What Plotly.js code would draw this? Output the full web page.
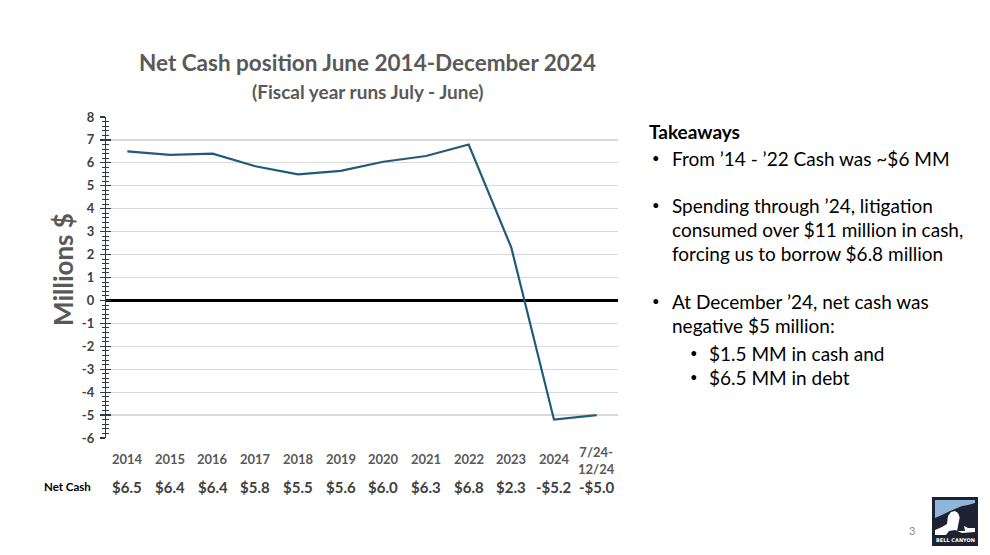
<!DOCTYPE html>
<html><head><meta charset="utf-8">
<script src="https://cdn.plot.ly/plotly-3.0.1.min.js"></script>
<style>html,body{margin:0;padding:0;background:#fff}#chart{width:990px;height:555px}</style>
</head><body><div id="chart"></div>
<script>
const categories = ['2014','2015','2016','2017','2018','2019','2020','2021','2022','2023','2024','7/24-12/24'];
const categoryLabels = ['2014','2015','2016','2017','2018','2019','2020','2021','2022','2023','2024','7/24-<br>12/24'];
const netCash = [6.5, 6.35, 6.4, 5.85, 5.5, 5.65, 6.05, 6.3, 6.8, 2.3, -5.2, -5.0];
const netCashLabels = ['$6.5','$6.4','$6.4','$5.8','$5.5','$5.6','$6.0','$6.3','$6.8','$2.3','-$5.2','-$5.0'];
const yTickVals = [8,7,6,5,4,3,2,1,0,-1,-2,-3,-4,-5,-6];
const takeaways = [
  {t:'<b>Takeaways</b>', x:647, y:131, size:19},
  {t:'•', x:650, y:158, size:13},
  {t:'From ’14 - ’22 Cash was ~$6 MM', x:670, y:158, size:19},
  {t:'•', x:650, y:205, size:13},
  {t:'Spending through ’24, litigation', x:670, y:205, size:19},
  {t:'consumed over $11 million in cash,', x:670, y:229, size:19},
  {t:'forcing us to borrow $6.8 million', x:670, y:253, size:19},
  {t:'•', x:650, y:301, size:13},
  {t:'At December ’24, net cash was', x:670, y:301, size:19},
  {t:'negative $5 million:', x:670, y:325, size:19},
  {t:'•', x:688, y:353, size:13},
  {t:'$1.5 MM in cash and', x:707, y:353, size:19},
  {t:'•', x:688, y:377, size:13},
  {t:'$6.5 MM in debt', x:707, y:377, size:19}
];

const W=990,H=555,L=106,R=618,T=117,B=438;
const px = x => (x-L)/(R-L);
const py = y => (B-y)/(B-T);
const FONT = 'Lato, "Open Sans", sans-serif';
const GRAY = '#595959';

const annotations = [];
categories.forEach((c,i)=>{
  annotations.push({x:i, xref:'x', y:py(i===11?461:459), yref:'paper', text:'<b>'+categoryLabels[i]+'</b>',
    showarrow:false, xanchor:'center', yanchor:'middle', font:{family:FONT,size:13,color:GRAY}});
  annotations.push({x:i, xref:'x', y:py(487), yref:'paper', text:'<b>'+netCashLabels[i]+'</b>',
    showarrow:false, xanchor:'center', yanchor:'middle', font:{family:FONT,size:15,color:'#404040'}});
});
annotations.push({x:px(93), xref:'paper', y:py(486), yref:'paper', text:'<b>Net Cash</b>', showarrow:false,
  xanchor:'right', yanchor:'middle', font:{family:FONT,size:11.5,color:'#000'}});
annotations.push({x:px(367), xref:'paper', y:py(63), yref:'paper', text:'<b>Net Cash position June 2014-December 2024</b>',
  showarrow:false, xanchor:'center', yanchor:'middle', font:{family:FONT,size:22.5,color:GRAY}});
annotations.push({x:px(367), xref:'paper', y:py(91), yref:'paper', text:'<b>(Fiscal year runs July - June)</b>',
  showarrow:false, xanchor:'center', yanchor:'middle', font:{family:FONT,size:19,color:GRAY}});
annotations.push({x:px(63), xref:'paper', y:py(270), yref:'paper', text:'<b>Millions $</b>', textangle:-90,
  showarrow:false, xanchor:'center', yanchor:'middle', font:{family:FONT,size:26,color:GRAY}});
takeaways.forEach(a=>{
  annotations.push({x:px(a.x), xref:'paper', y:py(a.y), yref:'paper', text:a.t, showarrow:false,
    xanchor:'left', yanchor:'middle', font:{family:FONT,size:a.size,color:'#000'}});
});
annotations.push({x:px(912), xref:'paper', y:py(530), yref:'paper', text:'3', showarrow:false,
  xanchor:'center', yanchor:'middle', font:{family:FONT,size:11,color:'#8c8c8c'}});
annotations.push({x:px(955), xref:'paper', y:py(540), yref:'paper', text:'<b>BELL CANYON</b>', showarrow:false,
  xanchor:'center', yanchor:'middle', font:{family:'DejaVu Sans',size:5,color:'#fff'}});

function path(pts){return 'M'+pts.map(p=>px(p[0])+','+py(p[1])).join(' L')+' Z';}
const shapes = [
  {type:'rect', xref:'paper', yref:'paper', x0:px(932), x1:px(978), y0:py(546), y1:py(497), fillcolor:'#1c2232', line:{width:0}},
  {type:'path', xref:'paper', yref:'paper', path:path([[935,500],[975,500],[975,503],[968,505],[962,506],[955,509],[948,512],[942,515],[935,518]]), fillcolor:'#8fb5da', line:{width:0}},
  {type:'path', xref:'paper', yref:'paper', path:path([[935,530],[942,527],[947,524],[948,516],[951,512],[955,511],[958,513],[960,518],[962,525],[968,528],[975,528],[975,532],[962,533],[955,530],[949,531],[946,535],[935,535]]), fillcolor:'#ffffff', line:{width:0}},
  {type:'path', xref:'paper', yref:'paper', path:path([[961,511],[957,531],[965,531]]), fillcolor:'#1c2232', line:{width:0}}
];

const data = [
  {x:categories, y:netCash, type:'scatter', mode:'lines', line:{color:'#215a7a', width:2.2}, hoverinfo:'x+y', showlegend:false},
  {x:categories, y:categories.map(()=>null), yaxis:'y2', type:'scatter', mode:'lines', showlegend:false, hoverinfo:'skip'}
];

const layout = {
  width:W, height:H, margin:{l:L, r:W-R, t:T, b:H-B, pad:0},
  paper_bgcolor:'#fff', plot_bgcolor:'#fff', showlegend:false,
  font:{family:FONT, color:GRAY},
  xaxis:{type:'category', range:[-0.5,11.5], showticklabels:false, ticks:'', showgrid:false, zeroline:false, showline:false, fixedrange:true},
  yaxis:{range:[-6,8], tickvals:yTickVals, ticktext:yTickVals.map(v=>'<b>'+v+'</b>'),
    tickfont:{family:FONT,size:13,color:'#404040'}, showgrid:true, gridcolor:'#d9d9d9', gridwidth:1.2,
    zeroline:true, zerolinecolor:'#000', zerolinewidth:3.5,
    showline:true, linecolor:'#2b3a47', linewidth:1.2, ticks:'outside', ticklen:5, tickcolor:'#2b3a47', tickwidth:1.2,
    minor:{dtick:0.2, ticks:'outside', ticklen:3, tickcolor:'#2b3a47', tickwidth:1, showgrid:false},
    ticklabelstandoff:3, fixedrange:true},
  yaxis2:{overlaying:'y', side:'left', range:[-6,8], tickvals:yTickVals, showticklabels:false, showgrid:false, zeroline:false,
    showline:false, ticks:'inside', ticklen:5, tickcolor:'#2b3a47', tickwidth:1.2,
    minor:{dtick:0.2, ticks:'inside', ticklen:3, tickcolor:'#2b3a47', tickwidth:1, showgrid:false}, fixedrange:true},
  annotations, shapes
};
Plotly.newPlot('chart', data, layout, {displayModeBar:false, staticPlot:true});
</script></body></html>
